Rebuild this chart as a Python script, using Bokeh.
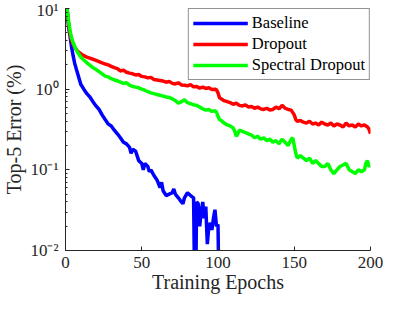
from bokeh.plotting import figure
from bokeh.models import Legend, LegendItem, FixedTicker, LogTicker, Range1d
from bokeh.embed import file_html
from bokeh.resources import INLINE

# ---------------- data ----------------
baseline_epochs = [1, 2, 3, 4, 5, 6, 7, 8, 10, 12, 14, 16, 18, 20, 22, 24, 26, 28, 30, 32, 34, 36, 38,
                   40, 42, 43, 44, 46, 48, 50, 51, 52, 54, 55, 56, 58, 60, 62, 63, 64, 66, 68, 70, 71,
                   72, 74, 76, 77, 78, 80, 82, 84, 85, 86, 87, 88, 89, 90, 91, 92, 93, 94, 95, 96, 97,
                   98, 99, 100, 101]
baseline_err = [10.0, 6.0, 4.5, 3.3, 2.6, 2.1, 1.8, 1.55, 1.15, 1.0, 0.88, 0.8, 0.7, 0.62, 0.56, 0.48,
                0.42, 0.37, 0.35, 0.31, 0.28, 0.25, 0.22, 0.21, 0.19, 0.16, 0.18, 0.17, 0.13, 0.12, 0.1,
                0.12, 0.11, 0.095, 0.1, 0.085, 0.075, 0.06, 0.07, 0.055, 0.048, 0.05, 0.052, 0.058, 0.05,
                0.045, 0.04, 0.038, 0.045, 0.052, 0.048, 0.045, 0.001, 0.04, 0.038, 0.02, 0.03, 0.04,
                0.025, 0.035, 0.012, 0.02, 0.022, 0.018, 0.025, 0.032, 0.02, 0.021, 0.001]

dropout_epochs = [1, 2, 3, 4, 5, 6, 8, 10, 12, 14, 16, 18, 20, 22, 24, 26, 28, 30, 32, 34, 36, 38, 40,
                  42, 44, 46, 48, 50, 52, 54, 56, 58, 60, 62, 64, 66, 68, 70, 72, 74, 76, 78, 80, 82, 84,
                  86, 88, 90, 92, 94, 96, 98, 99, 100, 101, 102, 104, 106, 108, 110, 112, 114, 116, 118,
                  120, 122, 124, 126, 128, 130, 132, 134, 136, 138, 140, 142, 144, 146, 148, 150, 151,
                  152, 154, 156, 158, 160, 162, 164, 166, 168, 170, 172, 174, 176, 178, 180, 182, 184,
                  186, 188, 190, 192, 194, 196, 198, 199, 200]
dropout_err = [10.0, 6.5, 4.8, 4.0, 3.6, 3.3, 2.95, 2.75, 2.6, 2.5, 2.42, 2.35, 2.28, 2.2, 2.12, 2.05,
               2.0, 1.92, 1.85, 1.8, 1.68, 1.72, 1.62, 1.58, 1.55, 1.5, 1.52, 1.44, 1.42, 1.38, 1.4, 1.32,
               1.3, 1.28, 1.26, 1.22, 1.25, 1.18, 1.16, 1.2, 1.13, 1.12, 1.1, 1.14, 1.07, 1.08, 1.03,
               1.06, 1.02, 1.04, 0.99, 1.0, 0.98, 0.9, 0.78, 0.76, 0.72, 0.7, 0.68, 0.65, 0.67, 0.63,
               0.62, 0.64, 0.6, 0.61, 0.58, 0.6, 0.57, 0.56, 0.58, 0.55, 0.56, 0.6, 0.57, 0.63, 0.58,
               0.56, 0.55, 0.48, 0.42, 0.4, 0.41, 0.39, 0.38, 0.4, 0.37, 0.38, 0.36, 0.39, 0.37, 0.36,
               0.38, 0.35, 0.37, 0.36, 0.34, 0.38, 0.35, 0.36, 0.34, 0.37, 0.35, 0.36, 0.34, 0.32, 0.28]

spectral_epochs = [1, 2, 3, 4, 5, 6, 8, 10, 12, 14, 16, 18, 20, 22, 24, 26, 28, 30, 32, 34, 36, 38, 40,
                   42, 44, 46, 48, 50, 52, 54, 56, 58, 60, 62, 64, 66, 68, 70, 72, 74, 76, 78, 80, 82,
                   84, 86, 88, 90, 92, 94, 96, 98, 99, 100, 101, 102, 104, 106, 108, 110, 111, 112, 113,
                   114, 116, 118, 120, 122, 124, 126, 128, 130, 132, 134, 136, 138, 140, 142, 144, 146,
                   148, 149, 150, 151, 152, 154, 156, 158, 160, 162, 164, 166, 168, 170, 172, 174, 176,
                   178, 180, 182, 184, 186, 188, 190, 192, 194, 196, 197, 198, 199, 200]
spectral_err = [10.0, 7.0, 5.3, 4.3, 3.8, 3.4, 2.85, 2.5, 2.3, 2.12, 1.98, 1.85, 1.75, 1.65, 1.55, 1.45,
                1.42, 1.35, 1.3, 1.27, 1.22, 1.18, 1.2, 1.12, 1.08, 1.06, 1.04, 1.0, 0.97, 0.93, 0.9,
                0.88, 0.86, 0.84, 0.82, 0.8, 0.79, 0.76, 0.72, 0.67, 0.7, 0.74, 0.68, 0.66, 0.64, 0.63,
                0.6, 0.57, 0.55, 0.56, 0.53, 0.54, 0.52, 0.46, 0.42, 0.41, 0.38, 0.36, 0.35, 0.33, 0.3,
                0.26, 0.28, 0.31, 0.3, 0.29, 0.28, 0.27, 0.25, 0.26, 0.24, 0.25, 0.23, 0.24, 0.22, 0.23,
                0.21, 0.24, 0.22, 0.2, 0.24, 0.25, 0.2, 0.16, 0.14, 0.15, 0.14, 0.13, 0.14, 0.12, 0.13,
                0.12, 0.11, 0.11, 0.12, 0.1, 0.09, 0.1, 0.11, 0.115, 0.12, 0.1, 0.095, 0.09, 0.1, 0.095,
                0.1, 0.12, 0.13, 0.11, 0.115]

x_ticks = [0, 50, 100, 150, 200]
y_tick_labels = {0.01: "10\u207b\u00b2", 0.1: "10\u207b\u00b9", 1: "10\u2070", 10: "10\u00b9"}

FONT = "Liberation Serif"
INK = "#262626"

p = figure(width=383, height=295, y_axis_type="log", output_backend="svg", toolbar_location=None,
           x_range=Range1d(0, 200), y_range=Range1d(0.01, 10),
           min_border_left=60, min_border_right=13, min_border_top=8, min_border_bottom=42)
p.outline_line_color = None
p.xgrid.visible = False
p.ygrid.visible = False
p.background_fill_color = "white"
p.border_fill_color = "white"

r_b = p.line(baseline_epochs, baseline_err, line_color="#0000ff", line_width=3.5)
r_d = p.line(dropout_epochs, dropout_err, line_color="#ff0000", line_width=3.5)
r_s = p.line(spectral_epochs, spectral_err, line_color="#00ff00", line_width=3.5)

p.xaxis.ticker = FixedTicker(ticks=x_ticks)
p.yaxis.ticker = LogTicker(desired_num_ticks=4, num_minor_ticks=10)
p.yaxis.major_label_overrides = y_tick_labels

for ax in (p.xaxis[0], p.yaxis[0]):
    ax.axis_line_color = INK
    ax.major_tick_line_color = INK
    ax.minor_tick_line_color = INK
    ax.major_tick_in = 4
    ax.major_tick_out = 0
    ax.minor_tick_in = 2
    ax.minor_tick_out = 0
    ax.major_label_text_font = FONT
    ax.major_label_text_font_size = "17px"
    ax.major_label_text_color = INK
    ax.axis_label_text_font = FONT
    ax.axis_label_text_font_size = "20px"
    ax.axis_label_text_font_style = "normal"
    ax.axis_label_text_color = INK
p.xaxis.minor_tick_line_color = None
p.xaxis.axis_label = "Training Epochs"
p.yaxis.axis_label = "Top-5 Error (%)"
p.xaxis.major_label_standoff = 6
p.xaxis.axis_label_standoff = 0
p.yaxis.major_label_standoff = 7
p.yaxis.axis_label_standoff = 2

legend = Legend(items=[LegendItem(label="Baseline", renderers=[r_b]),
                       LegendItem(label="Dropout", renderers=[r_d]),
                       LegendItem(label="Spectral Dropout", renderers=[r_s])],
                location="top_right")
legend.label_text_font = FONT
legend.label_text_font_size = "16.5px"
legend.label_text_color = "black"
legend.glyph_width = 55
legend.glyph_height = 18
legend.label_height = 18
legend.label_standoff = 4
legend.spacing = 1
legend.padding = 4
legend.margin = 0
legend.border_line_color = INK
legend.border_line_width = 1
legend.background_fill_alpha = 1
p.add_layout(legend)

open("out.html", "w").write(file_html(p, INLINE))
